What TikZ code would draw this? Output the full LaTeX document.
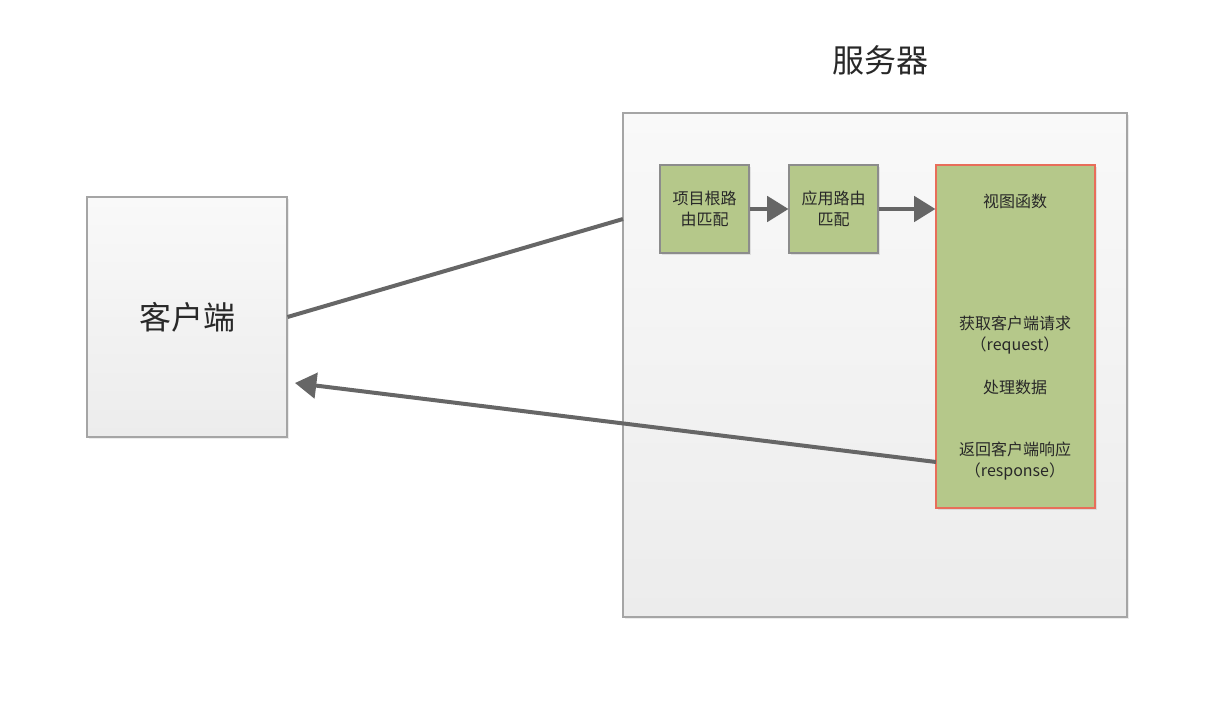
\documentclass[tikz,border=0pt]{standalone}
\usepackage{fontspec}
\setmainfont{Noto Sans CJK SC}
\usetikzlibrary{arrows.meta,shadows,calc}
\definecolor{boxgreen}{RGB}{181,200,138}
\definecolor{boxedge}{RGB}{140,140,140}
\definecolor{paneledge}{RGB}{165,165,165}
\definecolor{redge}{RGB}{232,110,90}
\definecolor{linegray}{RGB}{102,102,102}
\definecolor{txt}{RGB}{40,40,40}
\definecolor{ptop}{RGB}{249,249,249}
\definecolor{pbot}{RGB}{236,236,236}
\tikzset{
  panel/.style={draw=paneledge, line width=0.8pt, top color=ptop, bottom color=pbot, drop shadow={opacity=0.15, shadow xshift=1.5pt, shadow yshift=-1.5pt}},
  greenbox/.style={draw=boxedge, line width=0.8pt, fill=boxgreen, drop shadow={opacity=0.18, shadow xshift=1.5pt, shadow yshift=-1.5pt}},
  viewbox/.style={draw=redge, line width=0.9pt, fill=boxgreen, drop shadow={opacity=0.18, shadow xshift=1.5pt, shadow yshift=-1.5pt}},
  conn/.style={draw=linegray, line width=3pt},
  arr/.style={conn, -{Triangle[length=16pt, width=19pt]}},
  lbl/.style={text=txt, font=\fontsize{12}{14}\selectfont, inner sep=0pt},
  big/.style={text=txt, font=\fontsize{24}{28}\selectfont, inner sep=0pt}
}
\begin{document}
\begin{tikzpicture}[x=0.75pt,y=-0.75pt]
\useasboundingbox (0,0) rectangle (1222,702);
% client
\node[panel, minimum width=200*0.75pt, minimum height=240*0.75pt, inner sep=0pt] (client) at (187,317) {};
\node[big] (clientlbl) at (187,317) {客户端};
% server
\node[panel, minimum width=504*0.75pt, minimum height=504*0.75pt, inner sep=0pt] (server) at (875,365) {};
\node[big] (title) at (880,60) {服务器};
% route boxes
\node[greenbox, minimum width=89*0.75pt, minimum height=88*0.75pt, inner sep=0pt, align=center, text=txt, font=\fontsize{12}{16}\selectfont] (r1) at (704.5,209) {项目根路\\由匹配};
\node[greenbox, minimum width=89*0.75pt, minimum height=88*0.75pt, inner sep=0pt, align=center, text=txt, font=\fontsize{12}{16}\selectfont] (r2) at (833.5,209) {应用路由\\匹配};
% view function box
\node[viewbox, minimum width=159*0.75pt, minimum height=343*0.75pt, inner sep=0pt] (view) at (1015.5,336.5) {};
\node[lbl] (t1) at (1015,201) {视图函数};
\node[lbl] (t2) at (1015,323) {获取客户端请求};
\node[lbl] (t3) at (1015,345) {（request）};
\node[lbl] (t4) at (1015,387) {处理数据};
\node[lbl] (t5) at (1015,449) {返回客户端响应};
\node[lbl] (t6) at (1015,471) {（response）};
% connectors
\draw[arr] (r1.east) -- (r2.west);
\draw[arr] (r2.east) -- (r2.east -| view.west);
\coordinate (sin) at (623,219);
\draw[conn] (client.east) -- (sin);
\coordinate (vout) at (936,462);
\coordinate (cin) at (295,383);
\draw[arr] (vout) -- (cin);
\end{tikzpicture}
\end{document}
